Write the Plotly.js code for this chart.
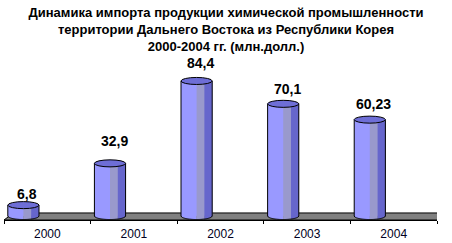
<!DOCTYPE html>
<html>
<head>
<meta charset="utf-8">
<script src="https://cdn.plot.ly/plotly-3.0.1.min.js"></script>
<style>html,body{margin:0;padding:0;background:#fff;}#chart{width:452px;height:243px;}</style>
</head>
<body>
<div id="chart"></div>
<script>
// ---- data ----
const years = ['2000', '2001', '2002', '2003', '2004'];
const values = [6.8, 32.9, 84.4, 70.1, 60.23];
const valueLabels = ['6,8', '32,9', '84,4', '70,1', '60,23'];
const titleLines = [
  'Динамика импорта продукции химической промышленности',
  'территории Дальнего Востока из Республики Корея',
  '2000-2004 гг. (млн.долл.)'
];

// ---- styling / geometry ----
const FONT = 'Liberation Sans, Arial, sans-serif';
const BAR_OFF = -0.456;   // bar left edge relative to category centre (x units)
const BAR_W = 0.36;       // bar width (x units)
const RY = 2.2;           // ellipse half-height (y units)
const stripes = [
  {f0: 0.0, f1: 0.5, color: '#9999FF'},
  {f0: 0.5, f1: 0.75, color: '#9999CC'},
  {f0: 0.75, f1: 1.0, color: '#6666CC'}
];
const topColor = '#6E6ED6';
const labelLift = [11, 22, 18, 15, 16]; // px above top ellipse centre
const xIdx = years.map((_, i) => i);

// body stripes as bar traces
const traces = stripes.map(s => ({
  type: 'bar',
  x: xIdx,
  y: values,
  base: 0,
  offset: BAR_OFF + s.f0 * BAR_W,
  width: (1 - s.f0) * BAR_W,
  marker: {color: s.color, line: {width: 0}},
  hoverinfo: 'skip',
  showlegend: false
}));

const shapes = [];
// floor
const FLOOR_BOTTOM = -2.5, FLOOR_TOP = 1.9, FLOOR_DX = 0.11;
shapes.push({
  type: 'path', xref: 'x', yref: 'y', layer: 'below',
  path: `M -0.5,${FLOOR_BOTTOM} L 4.5,${FLOOR_BOTTOM} L ${4.5 + FLOOR_DX},${FLOOR_TOP} L ${-0.5 + FLOOR_DX},${FLOOR_TOP} Z`,
  fillcolor: '#808080', line: {color: '#000000', width: 1}
});

function ellipseLowY(left, x) {
  const cx = left + BAR_W / 2, rx = BAR_W / 2;
  const d = Math.max(-1, Math.min(1, (x - cx) / rx));
  return -RY * Math.sqrt(1 - d * d);
}
xIdx.forEach((i) => {
  const left = i + BAR_OFF, right = left + BAR_W;
  const N = 24;
  // lower half of bottom ellipse, per stripe
  stripes.forEach(s => {
    const xa = left + s.f0 * BAR_W, xb = left + s.f1 * BAR_W;
    let p = `M ${xa},0.4 L ${xb},0.4`;
    for (let k = 0; k <= N; k++) {
      const x = xb - (xb - xa) * k / N;
      p += ` L ${x},${ellipseLowY(left, x)}`;
    }
    p += ' Z';
    shapes.push({type: 'path', xref: 'x', yref: 'y', path: p, fillcolor: s.color, line: {width: 0}});
  });
  // outline of the body
  let o = `M ${left},${values[i]} L ${left},0`;
  for (let k = 0; k <= N * 2; k++) {
    const x = left + BAR_W * k / (N * 2);
    o += ` L ${x},${ellipseLowY(left, x)}`;
  }
  o += ` L ${right},${values[i]}`;
  shapes.push({type: 'path', xref: 'x', yref: 'y', path: o, line: {color: '#000000', width: 1}});
  // top ellipse
  shapes.push({
    type: 'circle', xref: 'x', yref: 'y',
    x0: left, x1: right, y0: values[i] - RY, y1: values[i] + RY,
    fillcolor: topColor, line: {color: '#000000', width: 1}
  });
});

const annotations = xIdx.map(i => ({
  x: i + BAR_OFF + BAR_W / 2, y: values[i], xref: 'x', yref: 'y',
  text: valueLabels[i], showarrow: false,
  xshift: 4, yshift: labelLift[i], yanchor: 'middle', xanchor: 'center',
  font: {family: FONT, size: 14, weight: 'bold', color: '#000000'}
}));

const layout = {
  width: 452, height: 243,
  margin: {l: 4, r: 15, t: 60, b: 23, pad: 0},
  paper_bgcolor: '#ffffff', plot_bgcolor: '#ffffff',
  barmode: 'overlay',
  showlegend: false,
  title: {
    text: titleLines.join('<br>'),
    font: {family: FONT, size: 13, weight: 'bold', color: '#000000'},
    x: 0.5, xref: 'container', xanchor: 'center',
    y: 0.93, yref: 'container', yanchor: 'top'
  },
  xaxis: {
    range: [-0.5, 4.5], fixedrange: true,
    tickmode: 'array', tickvals: xIdx, ticktext: years,
    ticks: '', showgrid: false, zeroline: false,
    showline: true, linecolor: '#000000', linewidth: 1,
    tickfont: {family: FONT, size: 12, color: '#000022'},
    ticklabelstandoff: 3,
    minor: {tickmode: 'array', tickvals: [-0.5, 0.5, 1.5, 2.5, 3.5, 4.5], ticks: 'outside', ticklen: 3, tickcolor: '#000000', tickwidth: 1, showgrid: false}
  },
  yaxis: {range: [-2.5, 97.5], visible: false, fixedrange: true},
  shapes: shapes,
  annotations: annotations,
  font: {family: FONT}
};

Plotly.newPlot('chart', traces, layout, {displayModeBar: false, staticPlot: true});
</script>
</body>
</html>
